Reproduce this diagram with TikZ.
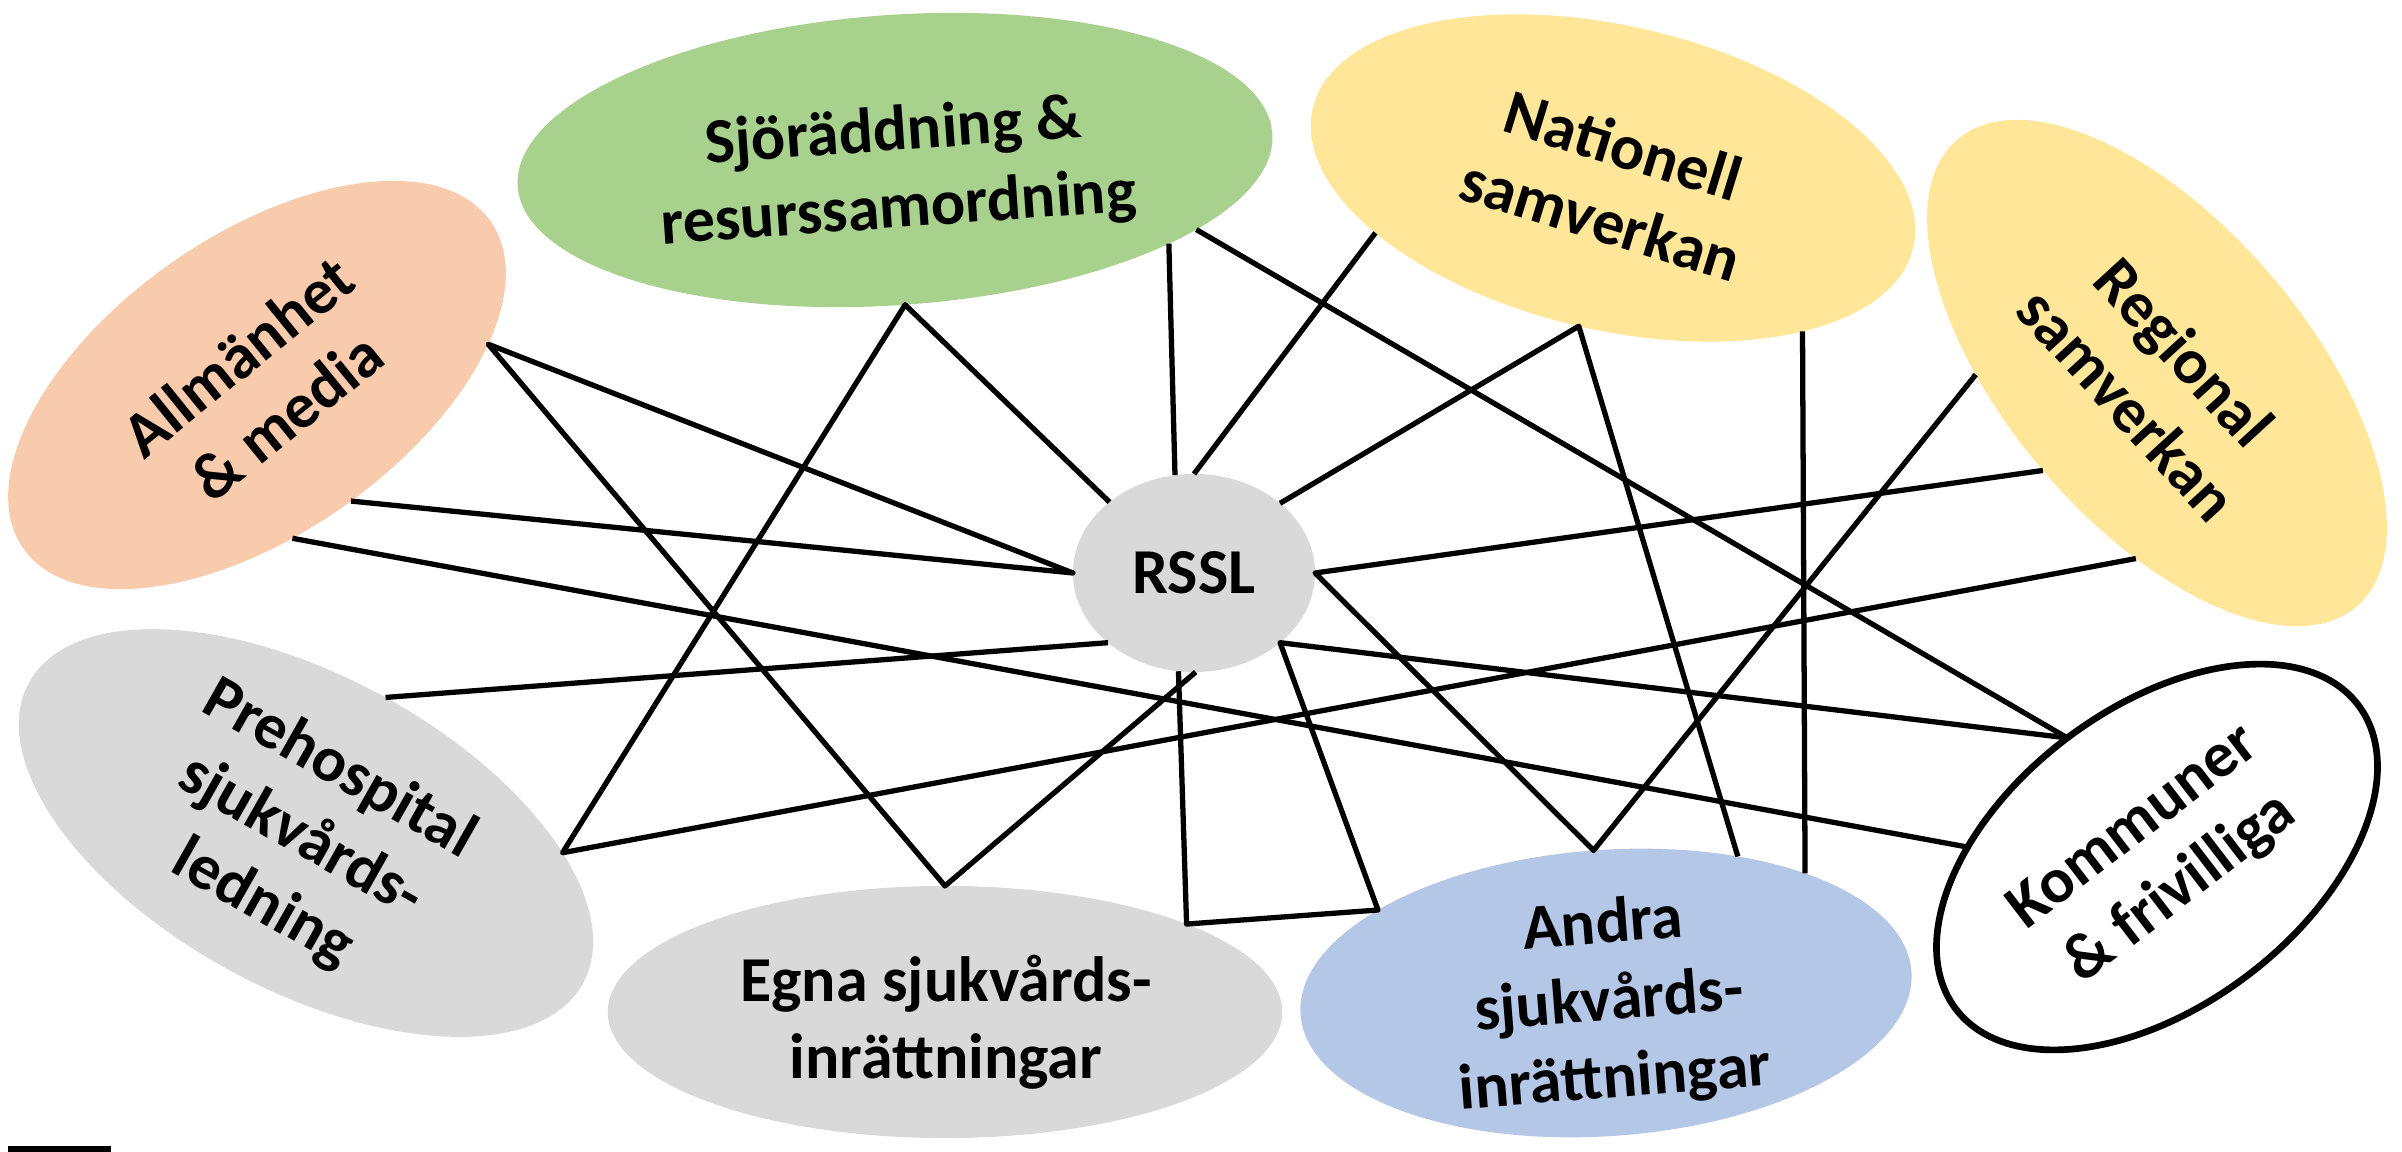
\documentclass[tikz,border=0pt]{standalone}
\usepackage{fontspec}
\setmainfont{Carlito}
\usetikzlibrary{shapes.geometric}
\definecolor{cgreen}{HTML}{A9D18E}
\definecolor{csalmon}{HTML}{F8CBAD}
\definecolor{cyellow}{HTML}{FFE699}
\definecolor{cgray}{HTML}{D9D9D9}
\definecolor{cblue}{HTML}{B4C7E7}
\begin{document}
\begin{tikzpicture}[x=0.01cm,y=-0.01cm,
  blob/.style={ellipse, inner sep=0pt, outer sep=0pt, draw=none},
  lbl/.style={font=\fontsize{18.2pt}{22pt}\selectfont\bfseries, align=center, inner sep=0pt},
  link/.style={line width=1.5pt, line join=round}]
\useasboundingbox (0,0) rectangle (2402,1152);
\fill[white] (0,0) rectangle (2402,1152);

% ellipses
\node[blob, fill=csalmon, minimum width=5.7cm, minimum height=2.98cm, rotate=35] (allm) at (257,385) {};
\node[blob, fill=cgreen, minimum width=7.56cm, minimum height=2.9cm, rotate=4] (sjo) at (895,160) {};
\node[blob, fill=cyellow, minimum width=6.16cm, minimum height=3.04cm, rotate=-13] (nat) at (1613,178) {};
\node[blob, fill=cyellow, minimum width=6.14cm, minimum height=3.0cm, rotate=-49.5] (reg) at (2157,373) {};
\node[blob, fill=cgray, minimum width=6.3cm, minimum height=3.14cm, rotate=-28.4] (pre) at (306,833) {};
\node[blob, fill=cgray, minimum width=6.74cm, minimum height=2.52cm] (egna) at (945,1012) {};
\node[blob, fill=cblue, minimum width=6.12cm, minimum height=2.86cm, rotate=4] (andra) at (1606,993) {};
\node[blob, fill=white, draw=black, line width=1.9pt, minimum width=5.04cm, minimum height=2.98cm, rotate=37] (komm) at (2157,857) {};
\node[blob, fill=cgray, minimum width=2.42cm, minimum height=1.98cm, font=\fontsize{18.2pt}{22pt}\selectfont\bfseries] (rssl) at (1194,573) {RSSL};

% labels
\node[lbl, rotate=39] (allm-t) at (262,386) {Allmänhet\\\& media};
\node[lbl, rotate=4] (sjo-t) at (896,172) {Sjöräddning \&\\resurssamordning};
\node[lbl, rotate=-17] (nat-t) at (1612,182) {Nationell\\samverkan};
\node[lbl, rotate=-47.5] (reg-t) at (2156,378) {Regional\\samverkan};
\node[lbl, rotate=-29.5] (pre-t) at (301,837) {Prehospital\\sjukvårds-\\ledning};
\node[lbl] (egna-t) at (946,1022) {Egna sjukvårds-\\inrättningar};
\node[lbl, rotate=4.5] (andra-t) at (1609,1003) {Andra\\sjukvårds-\\inrättningar};
\node[lbl, rotate=37.5] (komm-t) at (2158,859) {Kommuner\\\& frivilliga};

% connectors
\draw[link] (allm.-86.3) -- (rssl.west) -- (allm.-25) -- (egna.north) -- (rssl.-89.4);
\draw[link] (rssl.140.5) -- (sjo.-90.1) -- (pre.24.7) -- (reg.-47.1);
\draw[link] (rssl.90) -- (nat.-154.1);
\draw[link] (rssl.39.2) -- (nat.-90.6) -- (andra.42.2);
\draw[link] (nat.-26.3) -- (andra.27);
\draw[link] (reg.-130.8) -- (andra.91.2) -- (rssl.east) -- (reg.-90.1);
\draw[link] (allm.-112.7) -- (komm.140.2);
\draw[link] (pre.88.6) -- (rssl.-141.3);
\draw[link] (sjo.-21.4) -- (rssl.101.7);
\draw[link] (sjo.-17.4) -- (komm.90) -- (rssl.-39.9) -- (andra.156.1) -- (egna.20.1) -- (rssl.-99.2);

% small bar at bottom left
\fill[black] (8,1146) rectangle (111,1152);
\end{tikzpicture}
\end{document}
